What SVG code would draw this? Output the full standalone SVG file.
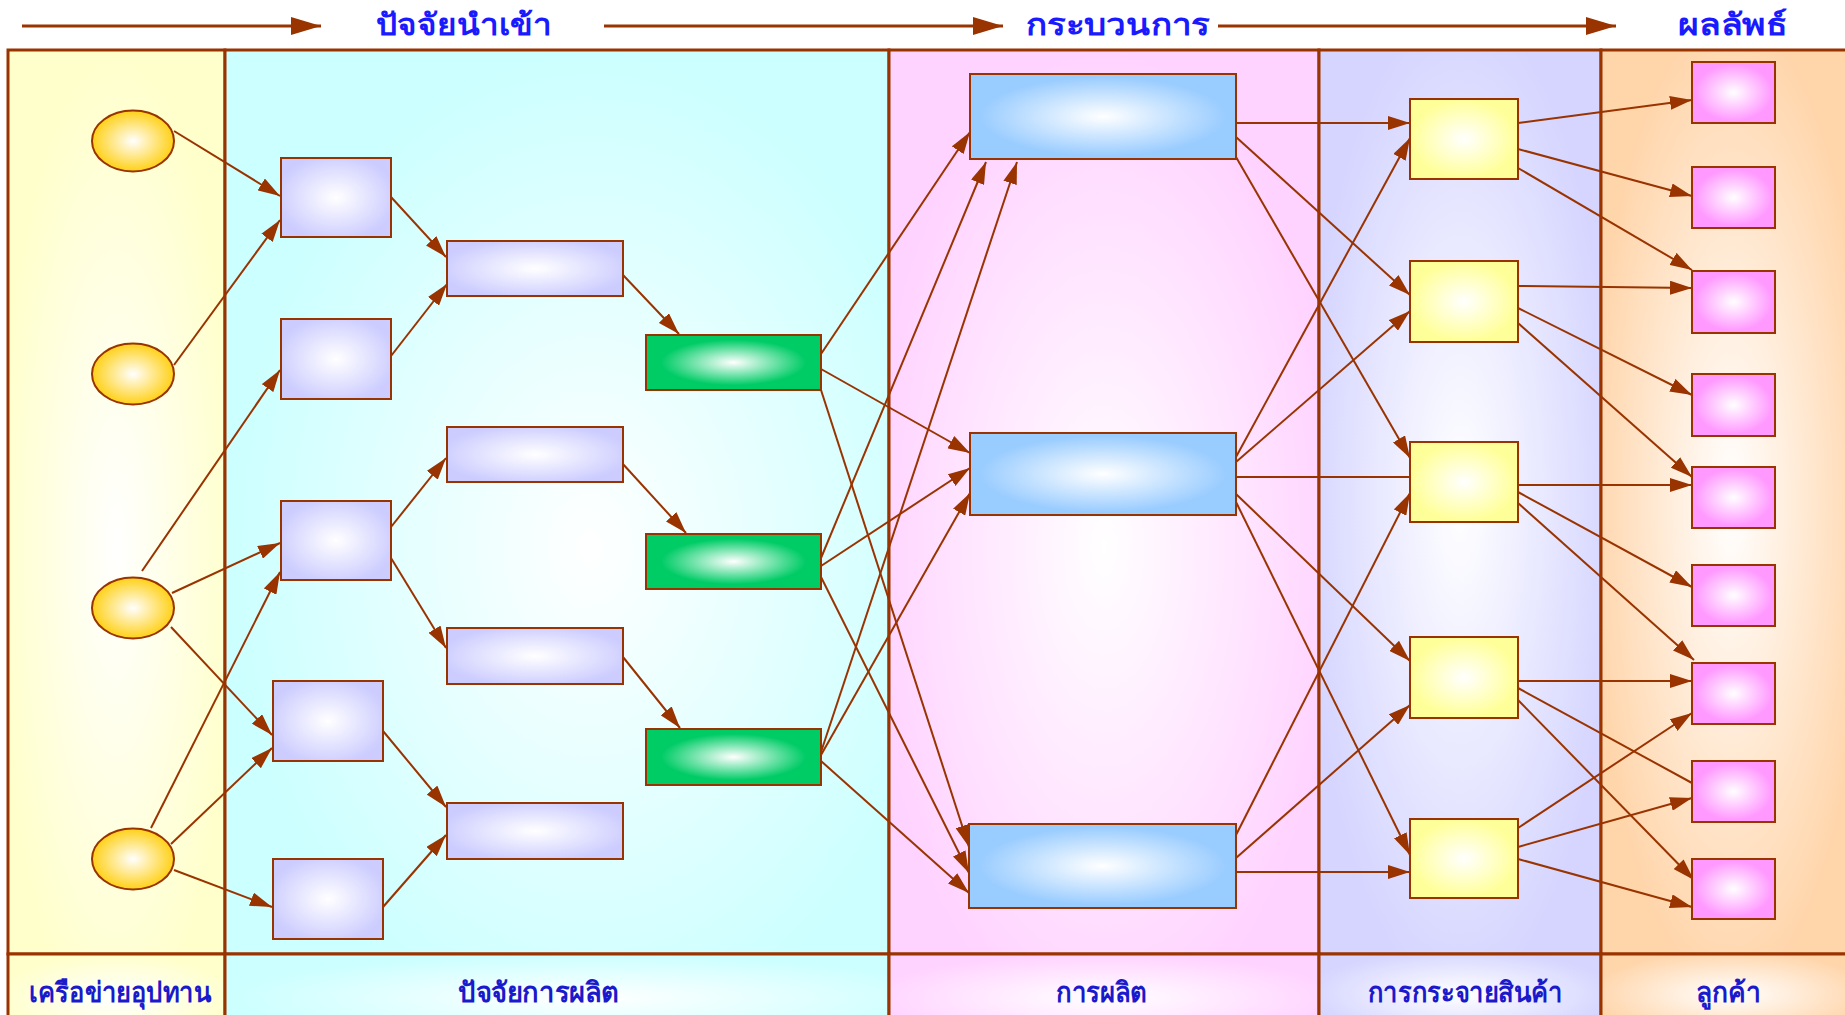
<svg xmlns="http://www.w3.org/2000/svg" width="1845" height="1015" viewBox="0 0 1845 1015">
<defs>
<radialGradient id="bgY" cx="50%" cy="55%" r="55%"><stop offset="0" stop-color="#ffffff"/><stop offset="1" stop-color="#ffffcc"/></radialGradient>
<radialGradient id="bgC" cx="55%" cy="55%" r="55%"><stop offset="0" stop-color="#ffffff"/><stop offset="1" stop-color="#ccffff"/></radialGradient>
<radialGradient id="bgP" cx="50%" cy="55%" r="55%"><stop offset="0" stop-color="#ffffff"/><stop offset="1" stop-color="#ffd3ff"/></radialGradient>
<radialGradient id="bgL" cx="50%" cy="50%" r="55%"><stop offset="0" stop-color="#ffffff"/><stop offset="1" stop-color="#d5d5ff"/></radialGradient>
<radialGradient id="bgO" cx="50%" cy="50%" r="55%"><stop offset="0" stop-color="#ffffff"/><stop offset="1" stop-color="#ffd5aa"/></radialGradient>
<radialGradient id="gCirc" cx="50%" cy="50%" r="55%"><stop offset="0" stop-color="#ffffff"/><stop offset="1" stop-color="#ffcc00"/></radialGradient>
<radialGradient id="gLav" cx="50%" cy="50%" r="55%"><stop offset="0" stop-color="#ffffff"/><stop offset="1" stop-color="#ccccff"/></radialGradient>
<radialGradient id="gGrn" cx="50%" cy="50%" r="55%"><stop offset="0" stop-color="#ffffff"/><stop offset="0.75" stop-color="#00cc66"/><stop offset="1" stop-color="#00cc66"/></radialGradient>
<radialGradient id="gBlu" cx="50%" cy="50%" r="55%"><stop offset="0" stop-color="#ffffff"/><stop offset="0.85" stop-color="#99ccff"/><stop offset="1" stop-color="#99ccff"/></radialGradient>
<radialGradient id="gYel" cx="50%" cy="50%" r="55%"><stop offset="0" stop-color="#ffffff"/><stop offset="0.9" stop-color="#ffff99"/><stop offset="1" stop-color="#ffff99"/></radialGradient>
<radialGradient id="gPnk" cx="50%" cy="50%" r="55%"><stop offset="0" stop-color="#ffffff"/><stop offset="0.85" stop-color="#ff99ff"/><stop offset="1" stop-color="#ff99ff"/></radialGradient>
<marker id="ah" markerUnits="userSpaceOnUse" markerWidth="22" markerHeight="14" refX="22" refY="7" orient="auto"><path d="M0,0 L22,7 L0,14 z" fill="#993300"/></marker>
<marker id="ahT" markerUnits="userSpaceOnUse" markerWidth="30" markerHeight="18" refX="30" refY="9" orient="auto"><path d="M0,0 L30,9 L0,18 z" fill="#993300"/></marker>
</defs>
<style>
.frame{stroke:#993300;stroke-width:3;}
.nd{stroke:#993300;stroke-width:2;}
.cn path{fill:none;stroke:#993300;stroke-width:2;}
.cn .h{marker-end:url(#ah);}
.tt{fill:#1a1aff;font-family:"Noto Sans","DejaVu Sans",sans-serif;font-weight:bold;font-size:30px;}
.bl{fill:#1a1acc;font-family:"Noto Sans","DejaVu Sans",sans-serif;font-weight:bold;font-size:28px;}
</style>
<rect x="0" y="0" width="1845" height="1015" fill="#ffffff"/>
<g id="columns">
<rect class="frame" x="8" y="50" width="217" height="904" fill="url(#bgY)"/>
<rect class="frame" x="225" y="50" width="664" height="904" fill="url(#bgC)"/>
<rect class="frame" x="889" y="50" width="430" height="904" fill="url(#bgP)"/>
<rect class="frame" x="1319" y="50" width="282" height="904" fill="url(#bgL)"/>
<rect class="frame" x="1601" y="50" width="260" height="904" fill="url(#bgO)"/>
<rect class="frame" x="8" y="954" width="217" height="80" fill="url(#bgY)"/>
<rect class="frame" x="225" y="954" width="664" height="80" fill="url(#bgC)"/>
<rect class="frame" x="889" y="954" width="430" height="80" fill="url(#bgP)"/>
<rect class="frame" x="1319" y="954" width="282" height="80" fill="url(#bgL)"/>
<rect class="frame" x="1601" y="954" width="260" height="80" fill="url(#bgO)"/>
</g>
<g id="titles">
<path d="M22,26 L321,26" stroke="#993300" stroke-width="3" marker-end="url(#ahT)"/>
<path d="M604,26 L1003,26" stroke="#993300" stroke-width="3" marker-end="url(#ahT)"/>
<path d="M1218,26 L1616,26" stroke="#993300" stroke-width="3" marker-end="url(#ahT)"/>
<text class="tt" x="376" y="35" textLength="176" lengthAdjust="spacingAndGlyphs">ปัจจัยนำเข้า</text>
<text class="tt" x="1026" y="35" textLength="184" lengthAdjust="spacingAndGlyphs">กระบวนการ</text>
<text class="tt" x="1678" y="35" textLength="109" lengthAdjust="spacingAndGlyphs">ผลลัพธ์</text>
<text class="bl" x="29" y="1002" textLength="182" lengthAdjust="spacingAndGlyphs">เครือข่ายอุปทาน</text>
<text class="bl" x="458" y="1002" textLength="161" lengthAdjust="spacingAndGlyphs">ปัจจัยการผลิต</text>
<text class="bl" x="1056" y="1002" textLength="91" lengthAdjust="spacingAndGlyphs">การผลิต</text>
<text class="bl" x="1368" y="1002" textLength="195" lengthAdjust="spacingAndGlyphs">การกระจายสินค้า</text>
<text class="bl" x="1696" y="1002" textLength="65" lengthAdjust="spacingAndGlyphs">ลูกค้า</text>
</g>
<g id="connectors" class="cn">
<path class="h" d="M174,131 L280,196"/>
<path class="h" d="M174,365 L280,220"/>
<path class="h" d="M391,197 L446,257"/>
<path class="h" d="M391,356 L447,284"/>
<path class="h" d="M142,571 L280,370"/>
<path class="h" d="M623,275 L679,334"/>
<path class="h" d="M622,463 L686,533"/>
<path class="h" d="M623,657 L680,728"/>
<path class="h" d="M172,593 L280,543"/>
<path class="h" d="M151,828 L280,572"/>
<path class="h" d="M171,627 L272,735"/>
<path class="h" d="M171,844 L272,748"/>
<path class="h" d="M174,870 L272,907"/>
<path class="h" d="M391,527 L446,458"/>
<path class="h" d="M391,558 L446,648"/>
<path class="h" d="M383,731 L446,807"/>
<path class="h" d="M383,907 L446,835"/>
<path class="h" d="M821,354 L970,132"/>
<path class="h" d="M821,369 L970,453"/>
<path class="h" d="M821,390 L969,847"/>
<path class="h" d="M821,558 L986,162"/>
<path class="h" d="M821,566 L970,468"/>
<path class="h" d="M821,577 L969,873"/>
<path class="h" d="M821,752 L1017,162"/>
<path class="h" d="M821,755 L970,493"/>
<path class="h" d="M821,761 L969,893"/>
<path class="h" d="M1236,123 L1410,123"/>
<path class="h" d="M1236,137 L1410,295"/>
<path class="h" d="M1236,157 L1410,458"/>
<path class="h" d="M1236,457 L1410,138"/>
<path class="h" d="M1236,462 L1410,311"/>
<path d="M1236,477 L1410,477"/>
<path class="h" d="M1236,494 L1410,661"/>
<path class="h" d="M1236,502 L1410,855"/>
<path class="h" d="M1236,835 L1410,493"/>
<path class="h" d="M1236,858 L1410,705"/>
<path class="h" d="M1236,872 L1410,872"/>
<path class="h" d="M1518,123 L1692,100"/>
<path class="h" d="M1518,149 L1692,196"/>
<path class="h" d="M1518,168 L1692,270"/>
<path class="h" d="M1518,286 L1692,288"/>
<path class="h" d="M1518,308 L1692,395"/>
<path class="h" d="M1518,323 L1692,477"/>
<path class="h" d="M1518,485 L1692,485"/>
<path class="h" d="M1518,492 L1692,587"/>
<path class="h" d="M1518,503 L1694,660"/>
<path class="h" d="M1518,681 L1692,681"/>
<path d="M1518,688 L1692,783"/>
<path class="h" d="M1518,700 L1694,880"/>
<path class="h" d="M1518,828 L1692,713"/>
<path class="h" d="M1518,847 L1692,798"/>
<path class="h" d="M1518,859 L1692,907"/>
</g>
<g id="n-c1"><ellipse class="nd" cx="133" cy="141" rx="41" ry="30.5" fill="url(#gCirc)"/></g>
<g id="n-c2"><ellipse class="nd" cx="133" cy="374" rx="41" ry="30.5" fill="url(#gCirc)"/></g>
<g id="n-c3"><ellipse class="nd" cx="133" cy="608" rx="41" ry="30.5" fill="url(#gCirc)"/></g>
<g id="n-c4"><ellipse class="nd" cx="133" cy="859" rx="41" ry="30.5" fill="url(#gCirc)"/></g>
<g id="n-s1"><rect class="nd" x="281" y="158" width="110" height="79" fill="url(#gLav)"/></g>
<g id="n-s2"><rect class="nd" x="281" y="319" width="110" height="80" fill="url(#gLav)"/></g>
<g id="n-s3"><rect class="nd" x="281" y="501" width="110" height="79" fill="url(#gLav)"/></g>
<g id="n-s4"><rect class="nd" x="273" y="681" width="110" height="80" fill="url(#gLav)"/></g>
<g id="n-s5"><rect class="nd" x="273" y="859" width="110" height="80" fill="url(#gLav)"/></g>
<g id="n-r1"><rect class="nd" x="447" y="241" width="176" height="55" fill="url(#gLav)"/></g>
<g id="n-r2"><rect class="nd" x="447" y="427" width="176" height="55" fill="url(#gLav)"/></g>
<g id="n-r3"><rect class="nd" x="447" y="628" width="176" height="56" fill="url(#gLav)"/></g>
<g id="n-r4"><rect class="nd" x="447" y="803" width="176" height="56" fill="url(#gLav)"/></g>
<g id="n-g1"><rect class="nd" x="646" y="335" width="175" height="55" fill="url(#gGrn)"/></g>
<g id="n-g2"><rect class="nd" x="646" y="534" width="175" height="55" fill="url(#gGrn)"/></g>
<g id="n-g3"><rect class="nd" x="646" y="729" width="175" height="56" fill="url(#gGrn)"/></g>
<g id="n-b1"><rect class="nd" x="970" y="74" width="266" height="85" fill="url(#gBlu)"/></g>
<g id="n-b2"><rect class="nd" x="970" y="433" width="266" height="82" fill="url(#gBlu)"/></g>
<g id="n-b3"><rect class="nd" x="969" y="824" width="267" height="84" fill="url(#gBlu)"/></g>
<g id="n-y1"><rect class="nd" x="1410" y="99" width="108" height="80" fill="url(#gYel)"/></g>
<g id="n-y2"><rect class="nd" x="1410" y="261" width="108" height="81" fill="url(#gYel)"/></g>
<g id="n-y3"><rect class="nd" x="1410" y="442" width="108" height="80" fill="url(#gYel)"/></g>
<g id="n-y4"><rect class="nd" x="1410" y="637" width="108" height="81" fill="url(#gYel)"/></g>
<g id="n-y5"><rect class="nd" x="1410" y="819" width="108" height="79" fill="url(#gYel)"/></g>
<g id="n-p1"><rect class="nd" x="1692" y="62" width="83" height="61" fill="url(#gPnk)"/></g>
<g id="n-p2"><rect class="nd" x="1692" y="167" width="83" height="61" fill="url(#gPnk)"/></g>
<g id="n-p3"><rect class="nd" x="1692" y="271" width="83" height="62" fill="url(#gPnk)"/></g>
<g id="n-p4"><rect class="nd" x="1692" y="374" width="83" height="62" fill="url(#gPnk)"/></g>
<g id="n-p5"><rect class="nd" x="1692" y="467" width="83" height="61" fill="url(#gPnk)"/></g>
<g id="n-p6"><rect class="nd" x="1692" y="565" width="83" height="61" fill="url(#gPnk)"/></g>
<g id="n-p7"><rect class="nd" x="1692" y="663" width="83" height="61" fill="url(#gPnk)"/></g>
<g id="n-p8"><rect class="nd" x="1692" y="761" width="83" height="61" fill="url(#gPnk)"/></g>
<g id="n-p9"><rect class="nd" x="1692" y="859" width="83" height="60" fill="url(#gPnk)"/></g>
</svg>
